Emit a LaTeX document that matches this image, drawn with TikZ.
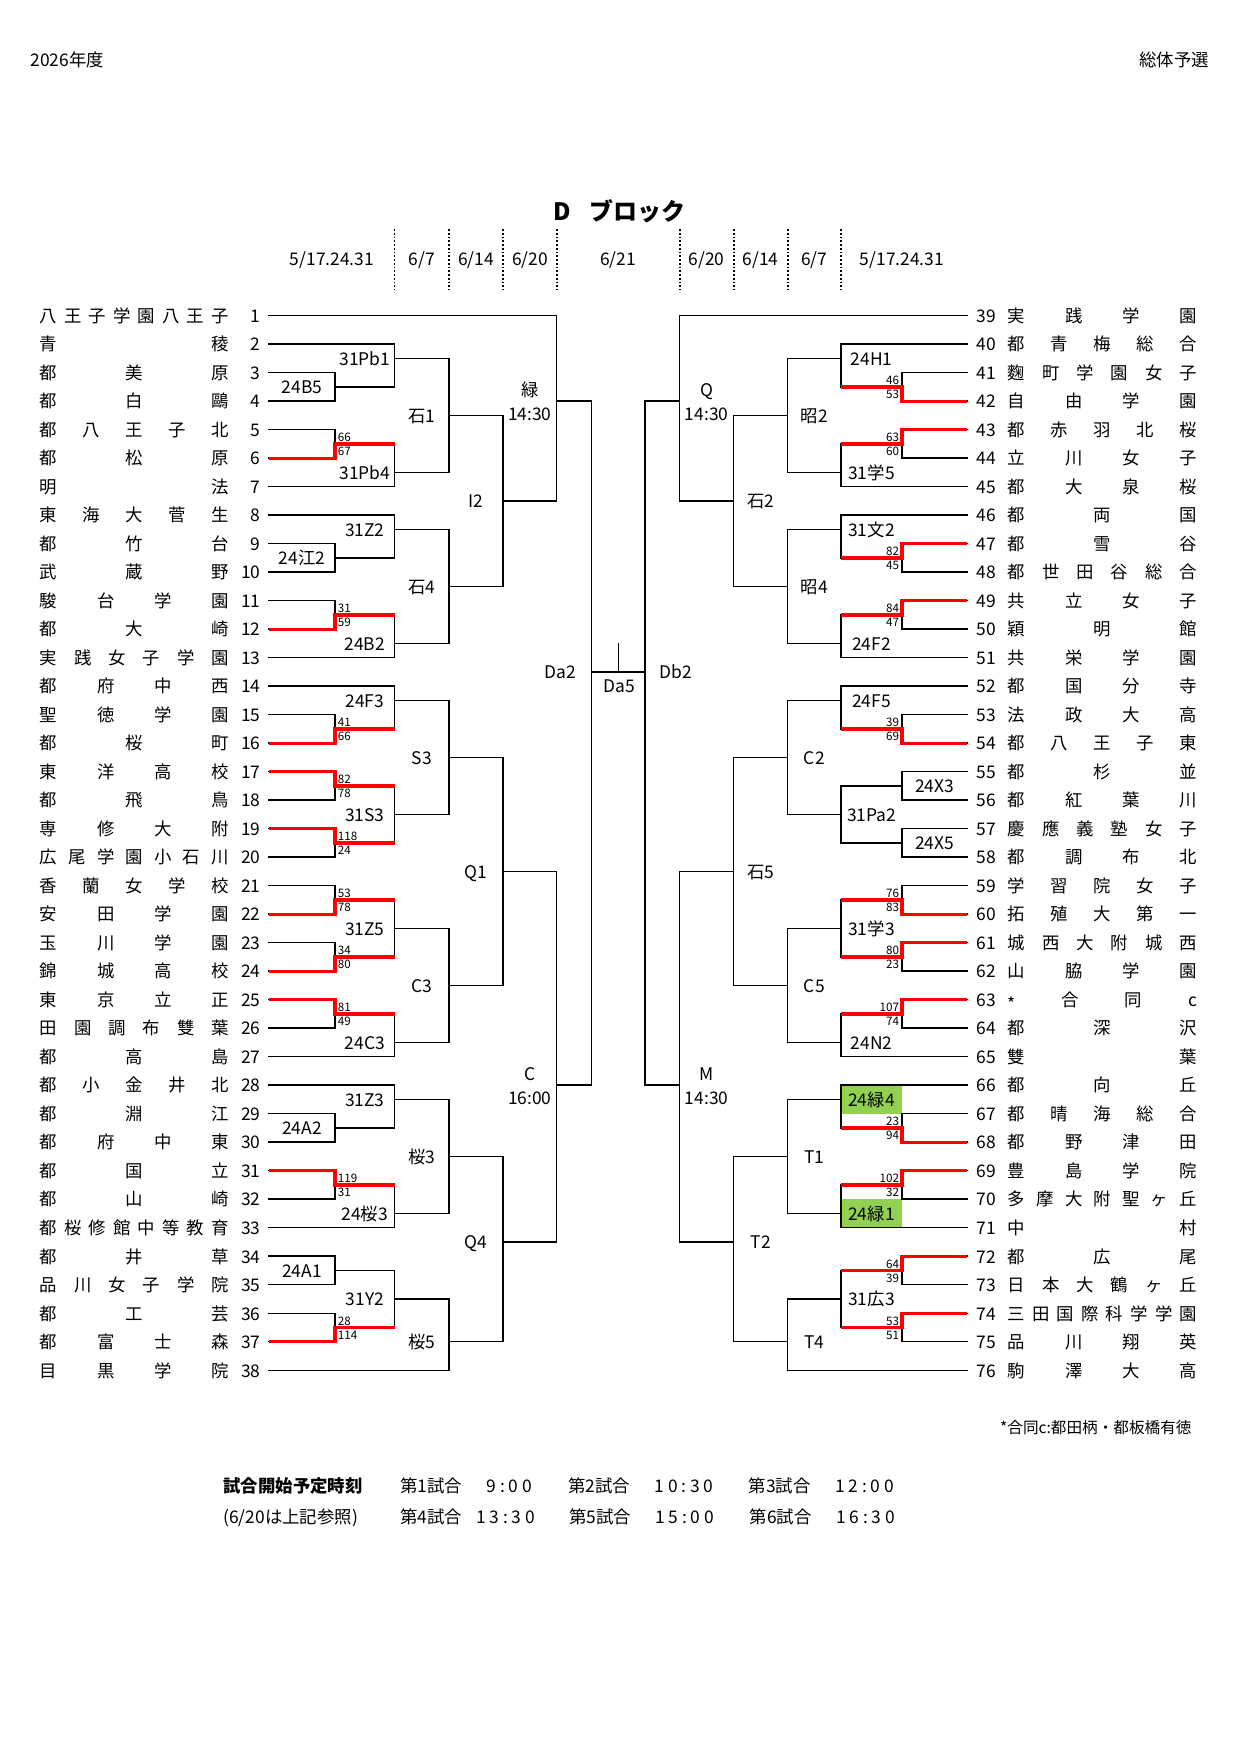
\documentclass[tikz,border=0pt]{standalone}
\usepackage{fontspec}
\setmainfont{Noto Sans CJK JP}
\definecolor{wingreen}{RGB}{146,208,80}
\definecolor{winred}{RGB}{255,0,0}
\newcommand\fsz[1]{\fontsize{#1}{#1}\selectfont}
\def\spreadA#1#2\spreadend{#1\ifx\relax#2\relax\else\hfill\spreadA#2\spreadend\fi}
\newcommand\spreadname[1]{\hbox to 90.72pt{\expandafter\spreadA#1\spreadend}}
\newcommand\myast{\raisebox{-0.25em}{*}}
\newcommand\tk{\kern1.8pt}
\tikzset{
  ln/.style={line width=0.7pt, line cap=rect},
  rd/.style={draw=winred, line width=1.5pt, line join=miter},
  lbl/.style={anchor=center, inner sep=0pt, font=\fsz{8.35}, text height=6.5pt, text depth=0pt},
  nm/.style={lbl, anchor=west},
  numl/.style={lbl, anchor=east},
  numr/.style={lbl, anchor=west},
  sc/.style={inner sep=0pt, font=\fsz{5.6}},
  hdrline/.style={line width=0.8pt, dash pattern=on 0.9pt off 0.9pt},
}
% one half of the bracket; #1..#7 are the column x positions from the names inwards
\newcommand\drawside[7]{%
  \foreach \h in {4,6,8,10,16,18,20,22,28,30,...,50,56,58,60,62,66,68,70,72}
    \draw[ln] (#1,\h) -- (#2,\h);
  \foreach \h in {2,12,14,24,26,52,54,64}
    \draw[ln] (#1,\h) -- (#3,\h);
  \draw[ln] (#1,74) -- (#4,74);
  \draw[ln] (#1,0) -- (#6,0);
  \foreach \a/\b/\o in {4/6/5,8/10/9,16/18/17,20/22/21,28/30/29,32/34/33,36/38/37,40/42/41,44/46/45,48/50/49,56/58/57,60/62/61,66/68/67,70/72/71}
    \draw[ln] (#2,\a) -- (#2,\b) (#2,\o) -- (#3,\o);
  \foreach \a/\b/\o in {2/5/3,9/12/11,14/17/15,21/24/23,26/29/27,33/37/35,41/45/43,49/52/51,54/57/55,61/64/63,67/71/69}
    \draw[ln] (#3,\a) -- (#3,\b) (#3,\o) -- (#4,\o);
  \foreach \a/\b/\o in {3/11/7,15/23/19,27/35/31,43/51/47,55/63/59,69/74/72}
    \draw[ln] (#4,\a) -- (#4,\b) (#4,\o) -- (#5,\o);
  \foreach \a/\b/\o in {7/19/13,31/47/39,59/72/65}
    \draw[ln] (#5,\a) -- (#5,\b) (#5,\o) -- (#6,\o);
  \foreach \a/\b/\o in {0/13/6,39/65/54}
    \draw[ln] (#6,\a) -- (#6,\b) (#6,\o) -- (#7,\o);
  \draw[ln] (#7,6) -- (#7,54);
}
\begin{document}
\begin{tikzpicture}[x=0.48pt, y=-0.48pt]
\fill[white] (0,0) rectangle (1240,1754);
\useasboundingbox (0,0) rectangle (1240,1754);

% header
\node[lbl, anchor=west] (year) at (30,60) {2026年度};
\node[lbl, anchor=east] (event) at (1209.5,60) {総体予選};
\node[lbl, font=\fsz{11.5}\bfseries, text height=9pt] (title) at (619.5,211.6) {D\hspace{0.75em}ブロック};
\node[lbl] (d1) at (332,259) {5/17.24.31};
\node[lbl] (d2) at (421.7,259) {6/7};
\node[lbl] (d3) at (475.9,259) {6/14};
\node[lbl] (d4) at (529.9,259) {6/20};
\node[lbl] (d5) at (618,259) {6/21};
\node[lbl] (d6) at (706.7,259) {6/20};
\node[lbl] (d7) at (760.7,259) {6/14};
\node[lbl] (d8) at (814.3,259) {6/7};
\node[lbl] (d9) at (902,259) {5/17.24.31};
\foreach \x in {394.6,448.8,503,556.7,679.7,733.7,787.7,841}
  \draw[hdrline] (\x,229) -- (\x,290);

\begin{scope}[yshift=-151.536pt, y=-6.84pt]
  \fill[wingreen] (841,54) rectangle (902,56);
  \fill[wingreen] (841,62) rectangle (902,64);
  \drawside{269}{335}{394.6}{448.8}{503}{556.7}{591.5}
  \drawside{967}{902}{841}{787.7}{733.7}{679.7}{645}
  \draw[ln] (591.5,25) -- (645,25);
  \draw[ln] (618.3,23) -- (618.3,25);
  % winners
  \foreach \t/\o in {10/9,22/21,30/29,32/33,36/37,42/41,46/45,48/49,60/61,72/71}
    \draw[rd] (269,\t) -- (335,\t) -- (335,\o) -- (394.6,\o);
  \foreach \t/\o in {6/5,8/9,16/17,20/21,30/29,42/41,44/45,48/49,58/57,60/61,66/67,70/71}
    \draw[rd] (967,\t) -- (902,\t) -- (902,\o) -- (841,\o);
  % scores
  \foreach \o/\u/\d in {9/66/67,21/31/59,29/41/66,33/82/78,37/118/24,41/53/78,45/34/80,49/81/49,61/119/31,71/28/114}{
    \node[sc, anchor=base west] (sLu\o) at (337.4,\o-0.16) {\u};
    \node[sc, anchor=base west] (sLd\o) at (337.4,\o+0.84) {\d};
  }
  \foreach \o/\u/\d in {5/46/53,9/63/60,17/82/45,21/84/47,29/39/69,41/76/83,45/80/23,49/107/74,57/23/94,61/102/32,67/64/39,71/53/51}{
    \node[sc, anchor=base east] (sRu\o) at (899.5,\o-0.16) {\u};
    \node[sc, anchor=base east] (sRd\o) at (899.5,\o+0.84) {\d};
  }
  % teams
  \foreach \n/\t in {1/八王子学園八王子,2/青稜,3/都美原,4/都白鷗,5/都八王子北,6/都松原,7/明法,8/東海大菅生,9/都竹台,10/武蔵野,11/駿台学園,12/都大崎,13/実践女子学園,14/都府中西,15/聖徳学園,16/都桜町,17/東洋高校,18/都飛鳥,19/専修大附,20/広尾学園小石川,21/香蘭女学校,22/安田学園,23/玉川学園,24/錦城高校,25/東京立正,26/田園調布雙葉,27/都高島,28/都小金井北,29/都淵江,30/都府中東,31/都国立,32/都山崎,33/都桜修館中等教育,34/都井草,35/品川女子学院,36/都工芸,37/都富士森,38/目黒学院}{
    \node[nm] (nameL\n) at (39.5,{2*(\n-1)}) {\spreadname{\t}};
    \node[numl] (numL\n) at (261,{2*(\n-1)}) {\n};
  }
  \foreach \n/\t in {39/実践学園,40/都青梅総合,41/麴町学園女子,42/自由学園,43/都赤羽北桜,44/立川女子,45/都大泉桜,46/都両国,47/都雪谷,48/都世田谷総合,49/共立女子,50/穎明館,51/共栄学園,52/都国分寺,53/法政大高,54/都八王子東,55/都杉並,56/都紅葉川,57/慶應義塾女子,58/都調布北,59/学習院女子,60/拓殖大第一,61/城西大附城西,62/山脇学園,63/\myast 合同c,64/都深沢,65/雙葉,66/都向丘,67/都晴海総合,68/都野津田,69/豊島学院,70/多摩大附聖ヶ丘,71/中村,72/都広尾,73/日本大鶴ヶ丘,74/三田国際科学学園,75/品川翔英,76/駒澤大高}{
    \node[numr] (numR\n) at (976,{2*(\n-39)}) {\n};
    \node[nm] (nameR\n) at (1007.5,{2*(\n-39)}) {\spreadname{\t}};
  }
  % match labels
  \foreach \x/\h/\t [count=\i] in {302/5/24B5, 302/17/24江2, 302/57/24A2, 302/67/24A1,
    364.8/3/31Pb1, 364.8/11/31Pb4, 364.8/15/31Z2, 364.8/23/24B2, 364.8/27/24F3, 364.8/35/31S3, 364.8/43/31Z5, 364.8/51/24C3, 364.8/55/31Z3, 364.8/63/24桜3, 364.8/69/31Y2,
    421.7/7/石1, 421.7/19/石4, 421.7/31/S3, 421.7/47/C3, 421.7/59/桜3, 421.7/72/桜5,
    475.9/13/I2, 475.9/39/Q1, 475.9/65/Q4,
    529.9/5.2/緑, 529.9/6.9/14:30, 529.9/53.2/C, 529.9/54.9/16:00,
    934.5/33/24X3, 934.5/37/24X5,
    871.5/3/24H1, 871.5/11/31学5, 871.5/15/31文2, 871.5/23/24F2, 871.5/27/24F5, 871.5/35/31Pa2, 871.5/43/31学3, 871.5/51/24N2, 871.5/55/24緑4, 871.5/63/24緑1, 871.5/69/31広3,
    814.3/7/昭2, 814.3/19/昭4, 814.3/31/C2, 814.3/47/C5, 814.3/59/T1, 814.3/72/T4,
    760.7/13/石2, 760.7/39/石5, 760.7/65/T2,
    706.7/5.2/Q, 706.7/6.9/14:30, 706.7/53.2/M, 706.7/54.9/14:30,
    560/25/Da2, 675.7/25/Db2, 619/26/Da5}
    \node[lbl] (lab\i) at (\x,\h) {\t};
\end{scope}

% notes
\node[lbl, anchor=east, font=\fsz{7.5}, text height=5.85pt] (note) at (1192,1427.5) {*合同c:都田柄・都板橋有徳};
\node[lbl, anchor=west, font=\fsz{8.35}\bfseries] (sched) at (223,1485.5) {試合開始予定時刻};
\node[lbl, anchor=west] (sched2) at (223,1516.5) {(6/20は上記参照)};
\node[lbl, anchor=west] (g1) at (400,1485.5) {第1試合};
\node[lbl] (t1) at (509.5,1485.5) {9\tk:\tk0\tk0};
\node[lbl, anchor=west] (g2) at (568,1485.5) {第2試合};
\node[lbl] (t2) at (684,1485.5) {1\tk0\tk:\tk3\tk0};
\node[lbl, anchor=west] (g3) at (748.5,1485.5) {第3試合};
\node[lbl] (t3) at (864.5,1485.5) {1\tk2\tk:\tk0\tk0};
\node[lbl, anchor=west] (g4) at (400,1516.5) {第4試合};
\node[lbl] (t4) at (505.5,1516.5) {1\tk3\tk:\tk3\tk0};
\node[lbl, anchor=west] (g5) at (569,1516.5) {第5試合};
\node[lbl] (t5) at (684.5,1516.5) {1\tk5\tk:\tk0\tk0};
\node[lbl, anchor=west] (g6) at (749.5,1516.5) {第6試合};
\node[lbl] (t6) at (865.5,1516.5) {1\tk6\tk:\tk3\tk0};
\end{tikzpicture}
\end{document}
